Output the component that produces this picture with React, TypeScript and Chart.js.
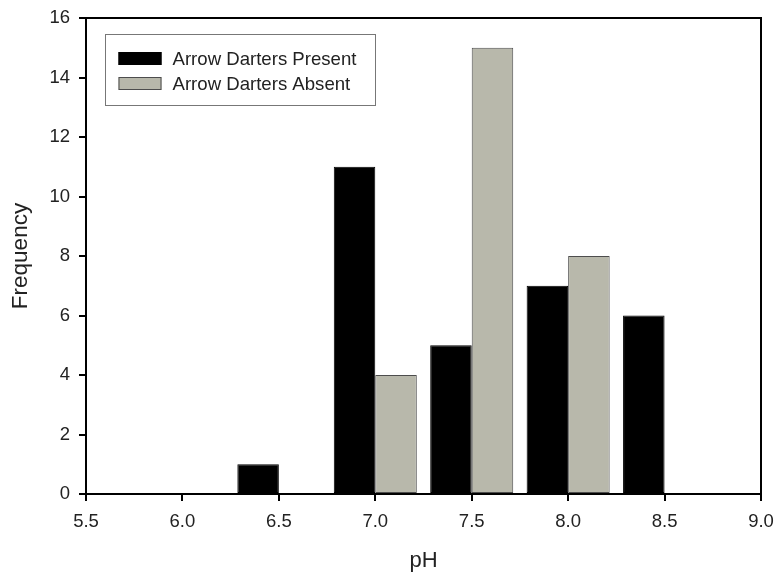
import React, { useEffect, useRef } from "react";
import { Chart, registerables } from "chart.js";

Chart.register(...registerables);

const phBins: number[] = [6.5, 7.0, 7.5, 8.0, 8.5];
const presentCounts: number[] = [1, 11, 5, 7, 6];
const absentCounts: number[] = [0, 4, 15, 8, 0];
const seriesLabels: string[] = ["Arrow Darters Present", "Arrow Darters Absent"];
const xTickMin = 5.5;
const xTickMax = 9.0;
const xTickStep = 0.5;
const yTickMin = 0;
const yTickMax = 16;
const yTickStep = 2;

const FONT = "'Liberation Sans', Arial, Helvetica, sans-serif";
const TEXT = "#222222";
const PRESENT_FILL = "#000000";
const ABSENT_FILL = "#b8b8ab";
const ABSENT_BORDER = "#4d4d4d";

const framePlugin = {
  id: "frameBox",
  afterDraw(chart: any) {
    const { ctx, chartArea } = chart;
    ctx.save();
    ctx.strokeStyle = "#000";
    ctx.lineWidth = 2;
    ctx.strokeRect(chartArea.left, chartArea.top, chartArea.right - chartArea.left, chartArea.bottom - chartArea.top);
    ctx.restore();
  },
};

const legendPlugin = {
  id: "insideLegend",
  afterDraw(chart: any) {
    const { ctx, chartArea } = chart;
    const x0 = chartArea.left + 19.5;
    const y0 = chartArea.top + 16.5;
    const w = 270;
    const h = 71;
    ctx.save();
    ctx.fillStyle = "#fff";
    ctx.fillRect(x0, y0, w, h);
    ctx.strokeStyle = "#777";
    ctx.lineWidth = 1;
    ctx.strokeRect(x0, y0, w, h);
    ctx.font = `18.6px ${FONT}`;
    ctx.textBaseline = "middle";
    ctx.textAlign = "left";
    chart.data.datasets.forEach((ds: any, i: number) => {
      const cy = y0 + 24 + i * 25;
      const sx = x0 + 13;
      ctx.fillStyle = ds.backgroundColor;
      ctx.fillRect(sx, cy - 6.5, 43, 13);
      ctx.strokeStyle = ds.borderColor;
      ctx.lineWidth = 1;
      ctx.strokeRect(sx + 0.5, cy - 6, 42, 12);
      ctx.fillStyle = TEXT;
      ctx.fillText(ds.label, sx + 54, cy + 1);
    });
    ctx.restore();
  },
};

export default function App() {
  const ref = useRef<HTMLCanvasElement | null>(null);
  useEffect(() => {
    if (!ref.current) return;
    const toPoints = (vals: number[]) =>
      phBins.map((x, i) => ({ x, y: vals[i] === 0 ? null : vals[i] }));
    const chart = new Chart(ref.current, {
      type: "bar",
      data: {
        datasets: [
          {
            label: seriesLabels[0],
            data: toPoints(presentCounts) as any,
            backgroundColor: PRESENT_FILL,
            borderColor: "#000000",
            borderWidth: 1,
            borderSkipped: false,
          },
          {
            label: seriesLabels[1],
            data: toPoints(absentCounts) as any,
            backgroundColor: ABSENT_FILL,
            borderColor: ABSENT_BORDER,
            borderWidth: 1,
            borderSkipped: false,
          },
        ],
      },
      options: {
        animation: false,
        responsive: false,
        maintainAspectRatio: false,
        categoryPercentage: 0.861,
        barPercentage: 1.0,
        layout: { padding: { left: 0, right: 17, top: 18, bottom: 0 } },
        plugins: {
          legend: { display: false },
          tooltip: { enabled: false },
        },
        scales: {
          x: {
            type: "linear",
            offset: false,
            min: xTickMin,
            max: xTickMax,
            afterBuildTicks: (scale: any) => {
              const t = [];
              for (let v = xTickMin; v <= xTickMax + 1e-9; v += xTickStep) t.push({ value: Math.round(v * 10) / 10 });
              scale.ticks = t;
            },
            afterFit: (scale: any) => {
              scale.height = 82;
              scale.paddingLeft = 0;
              scale.paddingRight = 0;
            },
            border: { display: false },
            grid: {
              offset: false,
              drawOnChartArea: false,
              drawTicks: true,
              tickLength: 7,
              tickWidth: 2,
              tickColor: "#000",
              color: "#000",
              lineWidth: 2,
            },
            ticks: {
              padding: 10,
              color: TEXT,
              font: { family: FONT, size: 18.5 },
              maxRotation: 0,
              autoSkip: false,
              callback: (v: any) => Number(v).toFixed(1),
            },
            title: {
              display: true,
              text: "pH",
              color: TEXT,
              font: { family: FONT, size: 22 },
              padding: { top: 0, bottom: 2 },
            },
          },
          y: {
            type: "linear",
            min: yTickMin,
            max: yTickMax,
            afterFit: (scale: any) => {
              scale.width = 86;
              scale.paddingTop = 0;
              scale.paddingBottom = 0;
            },
            border: { display: false },
            grid: {
              drawOnChartArea: false,
              drawTicks: true,
              tickLength: 7,
              tickWidth: 2,
              tickColor: "#000",
              color: "#000",
              lineWidth: 2,
            },
            ticks: {
              stepSize: yTickStep,
              padding: 9,
              color: TEXT,
              font: { family: FONT, size: 18.5 },
            },
            title: {
              display: true,
              text: "Frequency",
              color: TEXT,
              font: { family: FONT, size: 22.5 },
              padding: { top: 7, bottom: 0 },
            },
          },
        },
      } as any,
      plugins: [framePlugin, legendPlugin],
    });
    return () => chart.destroy();
  }, []);
  return (
    <div style={{ position: "fixed", left: 0, top: 0, width: 778, height: 576, background: "#fff" }}>
      <canvas ref={ref} width={778} height={576} style={{ width: 778, height: 576, display: "block" }} />
    </div>
  );
}
